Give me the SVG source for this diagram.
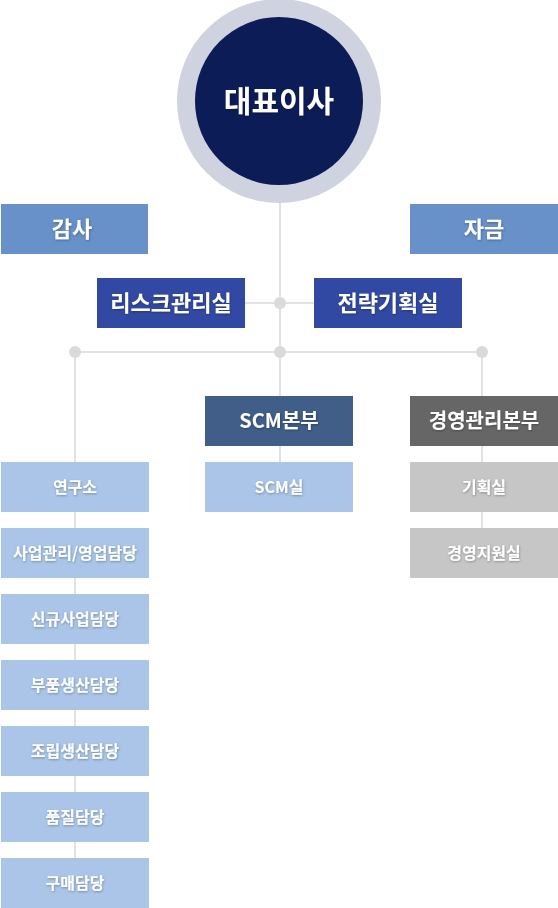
<svg xmlns="http://www.w3.org/2000/svg" width="558" height="908" viewBox="0 0 558 908">
<defs>
<style>
text{font-family:"Noto Sans CJK KR","Noto Sans",sans-serif;fill:#fff;text-anchor:middle;filter:url(#ts)}
.big{font-size:22px;font-weight:700}
.mid{font-size:20px;font-weight:700}
.sm{font-size:16px;font-weight:700}
.ln{stroke:#d9d9d9;stroke-width:1.5;fill:none}
.dot{fill:#dadada}
.sky{fill:#6890c9}
.navy{fill:#3249a3}
.light{fill:#aac5e7}
.gray{fill:#c6c6c6}
</style>
<filter id="ts" x="-20%" y="-40%" width="140%" height="180%">
<feDropShadow dx="0.5" dy="1" stdDeviation="1" flood-color="#000" flood-opacity="0.3"/>
</filter>
</defs>
<rect width="558" height="908" fill="#fff"/>
<g id="connectors">
<path class="ln" d="M280 190V352M245 303H314M75 352H482M75 352V860M280 352V462M482 352V530"/>
<circle class="dot" cx="280" cy="303" r="6"/>
<circle class="dot" cx="75" cy="352" r="6"/>
<circle class="dot" cx="280" cy="352" r="6"/>
<circle class="dot" cx="482" cy="352" r="6"/>
</g>
<g id="ceo">
<circle cx="279" cy="101" r="102" fill="#cfd3e0"/>
<circle cx="279" cy="101" r="84" fill="#0c1c56"/>
<text x="279" y="112" style="font-size:30px;font-weight:700">대표이사</text>
</g>
<g id="audit"><rect class="sky" x="1" y="204" width="147" height="50"/><text class="big" x="72" y="237">감사</text></g>
<g id="fund"><rect class="sky" x="410" y="204" width="148" height="50"/><text class="big" x="484" y="237">자금</text></g>
<g id="risk"><rect class="navy" x="97" y="278" width="148" height="50"/><text class="big" x="171" y="311">리스크관리실</text></g>
<g id="strategy"><rect class="navy" x="314" y="278" width="148" height="50"/><text class="big" x="388" y="311">전략기획실</text></g>
<g id="scm-hq"><rect x="205" y="396" width="148" height="50" fill="#405e87"/><text class="mid" x="279" y="428">SCM본부</text></g>
<g id="mgmt-hq"><rect x="410" y="396" width="148" height="50" fill="#666"/><text class="mid" x="484" y="428">경영관리본부</text></g>
<g id="scm"><rect class="light" x="205" y="462" width="148" height="50"/><text class="sm" x="279" y="493">SCM실</text></g>
<g id="plan"><rect class="gray" x="410" y="462" width="148" height="50"/><text class="sm" x="484" y="493">기획실</text></g>
<g id="support"><rect class="gray" x="410" y="528" width="148" height="50"/><text class="sm" x="484" y="559">경영지원실</text></g>
<g id="lab"><rect class="light" x="1" y="462" width="148" height="50"/><text class="sm" x="75" y="493">연구소</text></g>
<g id="biz"><rect class="light" x="1" y="528" width="148" height="50"/><text class="sm" x="75" y="559">사업관리/영업담당</text></g>
<g id="newbiz"><rect class="light" x="1" y="594" width="148" height="50"/><text class="sm" x="75" y="625">신규사업담당</text></g>
<g id="parts"><rect class="light" x="1" y="660" width="148" height="50"/><text class="sm" x="75" y="691">부품생산담당</text></g>
<g id="assembly"><rect class="light" x="1" y="726" width="148" height="50"/><text class="sm" x="75" y="757">조립생산담당</text></g>
<g id="quality"><rect class="light" x="1" y="792" width="148" height="50"/><text class="sm" x="75" y="823">품질담당</text></g>
<g id="purchase"><rect class="light" x="1" y="858" width="148" height="50"/><text class="sm" x="75" y="889">구매담당</text></g>
</svg>
